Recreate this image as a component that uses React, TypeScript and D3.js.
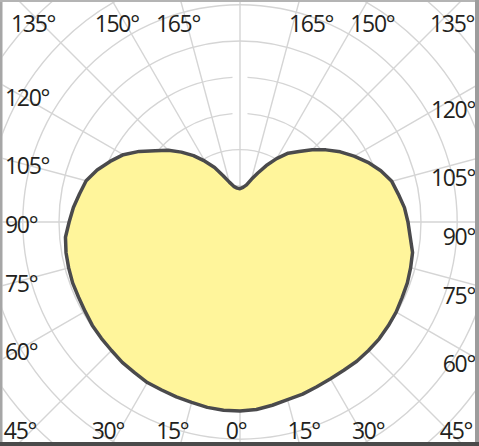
import React from "react";
import * as d3 from "d3";

// ---- data ----
const ANGLES = d3.range(0, 181, 5); // gamma angle, 0 = straight down
// right half (C0) intensity values
const RIGHT_VALUES = [261, 260, 257, 254, 253, 251, 250, 250, 251, 251, 251, 250, 249, 247, 246, 244, 242, 236, 232, 228, 222, 217, 207, 195, 182, 169, 155, 141, 127, 116, 101, 86, 72, 61, 52, 48, 46];
// left half (C180) intensity values
const LEFT_VALUES = [261, 261, 260, 258, 257, 256, 256, 254, 253, 251, 250, 249, 247, 246, 246, 245, 244, 242, 236, 231, 225, 220, 210, 198, 186, 170, 153, 140, 126, 112, 97, 83, 68, 57, 50, 47, 46];
const RING_VALUES = [50, 100, 150, 200, 250, 300, 350, 400, 450];
const GRID_ANGLES = d3.range(0, 360, 15);
const LABEL_ANGLES = [0, 15, 30, 45, 60, 75, 90, 105, 120, 135, 150, 165];

const W = 479;
const H = 446;
const CX = 240;
const CY = 222;

export default function App() {
  const r = d3.scaleLinear().domain([0, 50]).range([0, 36.2]);
  const toRad = (deg: number) => (deg * Math.PI) / 180;

  // closed curve: right side from top (180) down to 0, then left side up
  const pts: [number, number][] = [];
  for (let i = ANGLES.length - 1; i >= 0; i--) {
    pts.push([Math.PI - toRad(ANGLES[i]), r(RIGHT_VALUES[i])]);
  }
  for (let i = 1; i < ANGLES.length - 1; i++) {
    pts.push([Math.PI + toRad(ANGLES[i]), r(LEFT_VALUES[i])]);
  }
  const curvePath = d3
    .lineRadial<[number, number]>()
    .angle((d) => d[0])
    .radius((d) => d[1])
    .curve(d3.curveLinearClosed)(pts) as string;

  // rings (two of them with a small gap at the top)
  const ringPath = (v: number, i: number) => {
    const rr = r(v);
    const p = d3.path();
    if (i === 2 || i === 3) {
      const g = 7.5 / rr;
      const a0 = -Math.PI / 2 + g;
      const a1 = -Math.PI / 2 + 2 * Math.PI - g;
      p.moveTo(CX + rr * Math.cos(a0), CY + rr * Math.sin(a0));
      p.arc(CX, CY, rr, a0, a1);
    } else {
      p.moveTo(CX + rr, CY);
      p.arc(CX, CY, rr, 0, 2 * Math.PI);
    }
    return p.toString();
  };

  const far = r(700);

  // labels placed where the ray meets the label band
  const band = { left: 20, right: 460, top: 24, bottom: 430 };
  const labels: { text: string; x: number; y: number; anchor: string }[] = [];
  LABEL_ANGLES.forEach((a) => {
    const sides = a === 0 ? [0] : [-1, 1];
    sides.forEach((s) => {
      const dx = s * Math.sin(toRad(a));
      const dy = Math.cos(toRad(a));
      const cand: { t: number; edge: string }[] = [];
      if (dx < -1e-6) cand.push({ t: (band.left - CX) / dx, edge: "left" });
      if (dx > 1e-6) cand.push({ t: (band.right - CX) / dx, edge: "right" });
      if (dy < -1e-6) cand.push({ t: (band.top - CY) / dy, edge: "top" });
      if (dy > 1e-6) cand.push({ t: (band.bottom - CY) / dy, edge: "bottom" });
      const best = cand.reduce((m, c) => (c.t < m.t ? c : m));
      const ix = CX + dx * best.t;
      const iy = CY + dy * best.t;
      const text = `${a}°`;
      if (best.edge === "left") labels.push({ text, x: 5, y: iy + 11, anchor: "start" });
      else if (best.edge === "right") labels.push({ text, x: 475, y: iy + 23, anchor: "end" });
      else if (best.edge === "top")
        labels.push({ text, x: Math.min(ix + (s < 0 ? -9 : 18), 452), y: 32, anchor: "middle" });
      else labels.push({ text, x: ix + (s < 0 ? -12 : s > 0 ? 8 : -4), y: 439, anchor: "middle" });
    });
  });

  return (
    <svg
      width={W}
      height={H}
      viewBox={`0 0 ${W} ${H}`}
      style={{ position: "absolute", left: 0, top: 0, background: "#fff" }}
    >
      <defs>
        <clipPath id="frame">
          <rect x={2.5} y={2} width={472.5} height={440} />
        </clipPath>
      </defs>
      <rect x={0} y={0} width={W} height={H} fill="#fff" />
      <g clipPath="url(#frame)">
        {RING_VALUES.map((v, i) => (
          <path key={v} d={ringPath(v, i)} fill="none" stroke="#d5d5d5" strokeWidth={1.4} />
        ))}
        {GRID_ANGLES.map((a) => (
          <line
            key={a}
            x1={CX}
            y1={CY}
            x2={CX + far * Math.sin(toRad(a))}
            y2={CY + far * Math.cos(toRad(a))}
            stroke="#d5d5d5"
            strokeWidth={1.4}
          />
        ))}
        <path
          d={curvePath}
          transform={`translate(${CX},${CY})`}
          fill="#fff59b"
          stroke="#4a4a4c"
          strokeWidth={3.5}
          strokeLinejoin="round"
        />
        {labels.map((l, i) => (
          <text
            key={i}
            x={l.x}
            y={l.y}
            textAnchor={l.anchor}
            fontFamily="'Open Sans', sans-serif"
            fontSize={23}
            letterSpacing={-1.3}
            fill="#231f20"
          >
            {l.text}
          </text>
        ))}
      </g>
      <rect x={0} y={0} width={2.5} height={H} fill="#a6a6a6" />
      <rect x={0} y={0} width={W} height={2} fill="#b4b4b4" />
      <rect x={475} y={0} width={4} height={H} fill="#9c9c9c" />
      <rect x={0} y={442} width={W} height={4} fill="#4a4a4a" />
    </svg>
  );
}
